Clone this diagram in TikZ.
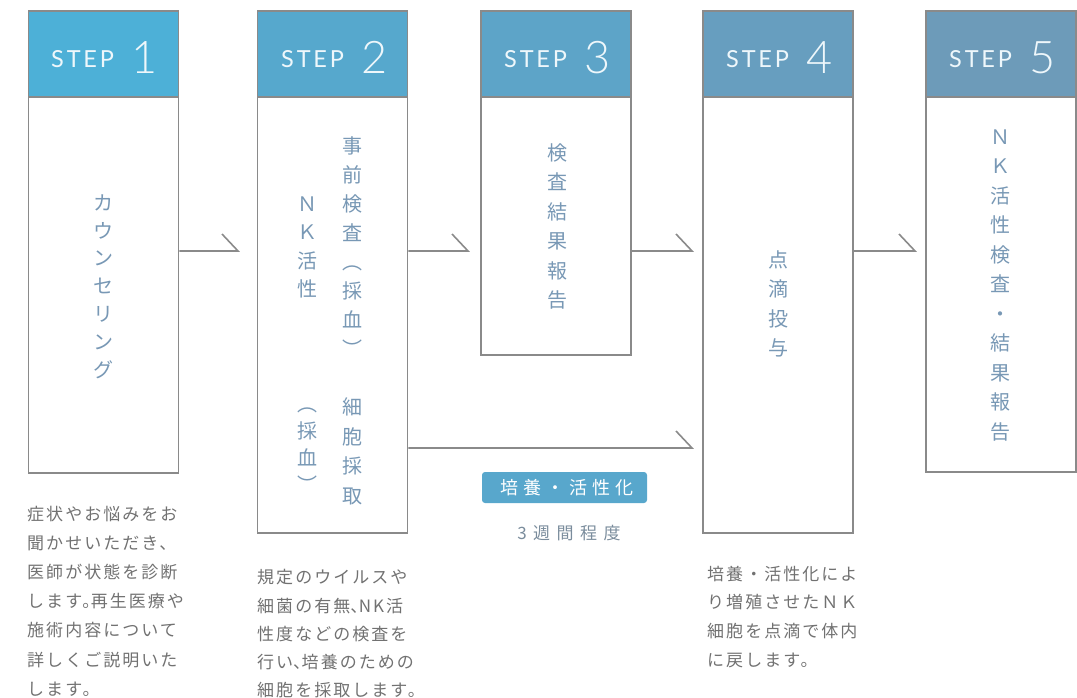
\documentclass[tikz,border=0pt]{standalone}
\usepackage{fontspec}
\newfontfamily\jp{Noto Sans CJK JP}
\newfontfamily\jpd{Noto Sans CJK JP}[LetterSpace=12]
\newfontfamily\jph{Noto Sans CJK JP}[LetterSpace=12,RawFeature=+halt]
\newfontfamily\jptag{Noto Sans CJK JP}[LetterSpace=27]
\newfontfamily\jpnote{Noto Sans CJK JP}[LetterSpace=38]
\newfontfamily\stepf{Lato}[LetterSpace=12]
\newfontfamily\digf{Lato Light}
\definecolor{s1}{HTML}{4DB0D7}
\definecolor{s2}{HTML}{56A8CD}
\definecolor{s3}{HTML}{5DA4C8}
\definecolor{s4}{HTML}{679EBF}
\definecolor{s5}{HTML}{6D9BB9}
\definecolor{edge}{HTML}{8A8A8A}
\definecolor{vblue}{HTML}{7898B5}
\definecolor{descgray}{HTML}{717171}
\definecolor{notegray}{HTML}{7A8C9C}
\definecolor{tagblue}{HTML}{58A7CC}
\definecolor{steptext}{HTML}{EEF7FB}
\tikzset{
  stepbox/.style={draw=edge, line width=1.6pt, fill=white, minimum width=150pt, inner sep=0pt},
  headbox/.style={draw=edge, line width=1.6pt, minimum width=150pt, minimum height=86pt, anchor=north, inner sep=0pt},
  steptxt/.style={font=\stepf\fontsize{23.5}{23.5}\selectfont, text=steptext, inner sep=0pt, anchor=base west},
  stepnum/.style={font=\digf\fontsize{45}{45}\selectfont, text=steptext, inner sep=0pt, anchor=base west},
  vlab/.style={font=\jp\fontsize{20}{#1}\selectfont, align=center, text=vblue, inner sep=0pt},
  vlab/.default=29,
  desc/.style={font=\jpd\fontsize{17}{#1}\selectfont, align=left, text=descgray, inner sep=0pt, anchor=north west},
  desc/.default=29.2,
  conn/.style={draw=edge, line width=1.6pt, line join=miter},
  tag/.style={fill=tagblue, rounded corners=3pt, minimum width=165pt, minimum height=31pt, text=white, font=\jptag\fontsize{18}{18}\selectfont, inner sep=0pt},
  note/.style={text=notegray, font=\jpnote\fontsize{17}{17}\selectfont, inner sep=0pt}
}
\begin{document}
\begin{tikzpicture}[x=1pt,y=-1pt]
\useasboundingbox (0,0) rectangle (1077,697);
% step boxes
\node[stepbox, minimum height=462pt] (b1) at (103.5,242) {};
\node[stepbox, minimum height=522pt] (b2) at (332.5,272) {};
\node[stepbox, minimum height=344pt] (b3) at (556,183) {};
\node[stepbox, minimum height=522pt] (b4) at (778,272) {};
\node[stepbox, minimum height=461pt] (b5) at (1001,241.5) {};
% headers
\node[headbox, fill=s1] (h1) at (b1.north) {};
\node[headbox, fill=s2] (h2) at (b2.north) {};
\node[headbox, fill=s3] (h3) at (b3.north) {};
\node[headbox, fill=s4] (h4) at (b4.north) {};
\node[headbox, fill=s5] (h5) at (b5.north) {};
\node[steptxt] (st1) at (51,67) {STEP};   \node[stepnum] (n1) at (131,73) {1};
\node[steptxt] (st2) at (281,67) {STEP};  \node[stepnum] (n2) at (361,73) {2};
\node[steptxt] (st3) at (504,67) {STEP};  \node[stepnum] (n3) at (584,73) {3};
\node[steptxt] (st4) at (726,67) {STEP};  \node[stepnum] (n4) at (806,73) {4};
\node[steptxt] (st5) at (949,67) {STEP};  \node[stepnum] (n5) at (1029,73) {5};
% vertical labels
\node[vlab=27.8] (v1) at (103,286.5) {カ\\ウ\\ン\\セ\\リ\\ン\\グ};
\node[vlab=29] (v2a) at (352,246.5) {事\\前\\検\\査\\︵\\採\\血\\︶};
\node[vlab=28.3] (v2b) at (307,247.5) {Ｎ\\Ｋ\\活\\性};
\node[vlab=29.7] (v2c) at (352,451.5) {細\\胞\\採\\取};
\node[vlab=27] (v2d) at (307,450) {︵\\採\\血\\︶};
\node[vlab=29.4] (v3) at (557,226.5) {検\\査\\結\\果\\報\\告};
\node[vlab=29.3] (v4) at (778,304) {点\\滴\\投\\与};
\node[vlab=29.5] (v5) at (1000,285.5) {Ｎ\\Ｋ\\活\\性\\検\\査\\・\\結\\果\\報\\告};
% connectors
\coordinate (t1) at (238,251);
\coordinate (t2) at (468,251);
\coordinate (t3) at (692,251);
\coordinate (t4) at (915,251);
\coordinate (t5) at (692,448);
\draw[conn] (b1.east |- t1) -- (t1) -- ++(-16,-17);
\draw[conn] (b2.east |- t2) -- (t2) -- ++(-16,-17);
\draw[conn] (b3.east |- t3) -- (t3) -- ++(-16,-17);
\draw[conn] (b4.east |- t4) -- (t4) -- ++(-16,-17);
\draw[conn] (b2.east |- t5) -- (t5) -- ++(-16,-17);
\node[tag] (tg) at (564.5,487.5) {\hspace*{5pt}培養・活性化};
\node[note] (wk) at (569,533) {3週間程度};
% descriptions
\node[desc=29.2] (d1) at (27,505.5) {症状やお悩みをお\\聞かせいただき、\\医師が状態を診断\\します{\jph 。}再生医療や\\施術内容について\\詳しくご説明いた\\します。};
\node[desc=28.2] (d2) at (257,569.5) {規定のウイルスや\\細菌の有無{\jph 、}NK活\\性度などの検査を\\行い{\jph 、}培養のための\\細胞を採取します。};
\node[desc=28.7] (d4) at (707,565.5) {培養・活性化によ\\り増殖させたＮＫ\\細胞を点滴で体内\\に戻します。};
\end{tikzpicture}
\end{document}
